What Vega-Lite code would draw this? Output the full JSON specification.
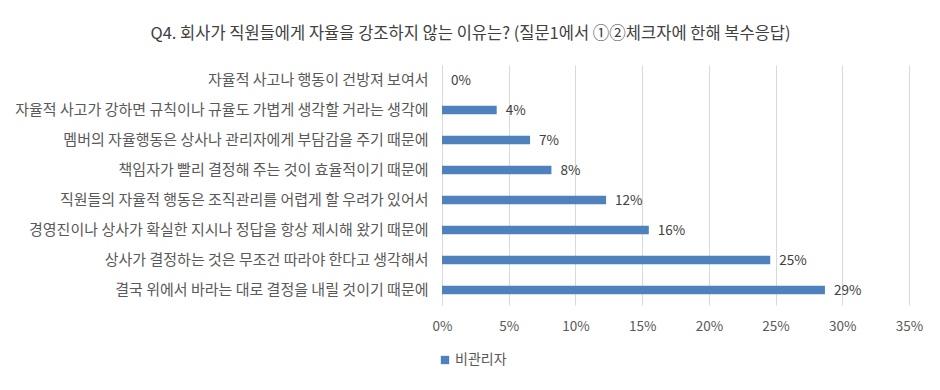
{
  "$schema": "https://vega.github.io/schema/vega-lite/v6.json",
  "width": 467,
  "height": 240,
  "autosize": {"type": "none"},
  "padding": {"left": 442, "top": 65, "right": 31, "bottom": 85},
  "background": "white",
  "config": {"view": {"stroke": null}, "font": "Noto Sans CJK KR"},
  "title": {
    "text": "Q4. 회사가 직원들에게 자율을 강조하지 않는 이유는? (질문1에서 ①②체크자에 한해 복수응답)",
    "fontSize": 16.5,
    "fontWeight": "normal",
    "color": "#404040",
    "anchor": "middle",
    "dx": -205,
    "offset": 23
  },
  "data": {
    "values": [
      {"reason": "자율적 사고나 행동이 건방져 보여서", "value": 0.0, "series": "비관리자"},
      {"reason": "자율적 사고가 강하면 규칙이나 규율도 가볍게 생각할 거라는 생각에", "value": 0.041, "series": "비관리자"},
      {"reason": "멤버의 자율행동은 상사나 관리자에게 부담감을 주기 때문에", "value": 0.066, "series": "비관리자"},
      {"reason": "책임자가 빨리 결정해 주는 것이 효율적이기 때문에", "value": 0.082, "series": "비관리자"},
      {"reason": "직원들의 자율적 행동은 조직관리를 어렵게 할 우려가 있어서", "value": 0.123, "series": "비관리자"},
      {"reason": "경영진이나 상사가 확실한 지시나 정답을 항상 제시해 왔기 때문에", "value": 0.155, "series": "비관리자"},
      {"reason": "상사가 결정하는 것은 무조건 따라야 한다고 생각해서", "value": 0.246, "series": "비관리자"},
      {"reason": "결국 위에서 바라는 대로 결정을 내릴 것이기 때문에", "value": 0.287, "series": "비관리자"}
    ]
  },
  "encoding": {
    "y": {
      "field": "reason",
      "type": "nominal",
      "sort": null,
      "scale": {"paddingInner": 0.72, "paddingOuter": 0.36},
      "axis": {
        "title": null,
        "domain": true,
        "domainColor": "#d9d9d9",
        "ticks": false,
        "labelPadding": 14,
        "labelFontSize": 15,
        "labelColor": "#595959",
        "labelLimit": 500
      }
    },
    "x": {
      "field": "value",
      "type": "quantitative",
      "scale": {"domain": [0, 0.35], "nice": false},
      "axis": {
        "title": null,
        "format": ".0%",
        "values": [0, 0.05, 0.1, 0.15, 0.2, 0.25, 0.3, 0.35],
        "grid": true,
        "gridColor": "#d9d9d9",
        "domain": false,
        "ticks": false,
        "labelFlush": false,
        "labelPadding": 14,
        "labelFontSize": 13.5,
        "labelColor": "#595959"
      }
    }
  },
  "layer": [
    {
      "mark": {"type": "bar"},
      "encoding": {
        "color": {
          "field": "series",
          "type": "nominal",
          "scale": {"range": ["#4F81BD"]},
          "legend": {
            "title": null,
            "orient": "none",
            "legendX": -4,
            "legendY": 288,
            "symbolType": "square",
            "symbolSize": 70,
            "labelFontSize": 14,
            "labelColor": "#595959",
            "labelOffset": 3
          }
        }
      }
    },
    {
      "mark": {"type": "text", "align": "left", "baseline": "middle", "dx": 9, "dy": 1, "fontSize": 13.5, "color": "#404040"},
      "encoding": {
        "text": {"field": "value", "type": "quantitative", "format": ".0%"}
      }
    }
  ]
}
